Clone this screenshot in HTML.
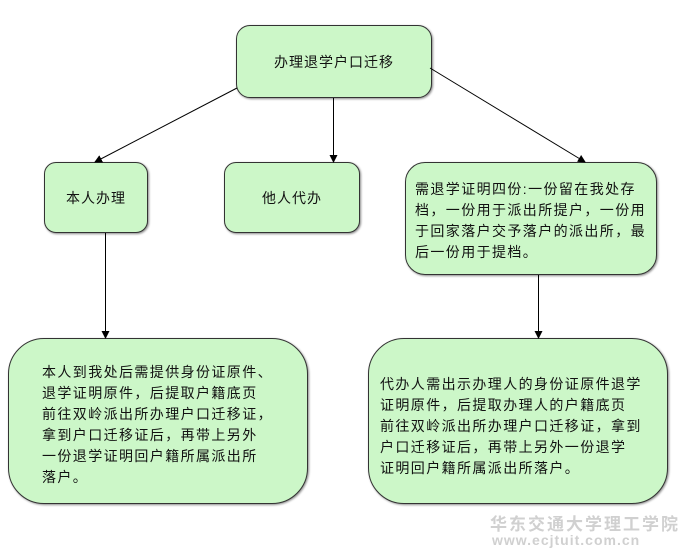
<!DOCTYPE html>
<html><head><meta charset="utf-8"><style>
body{margin:0;width:681px;height:555px;background:#fff;position:relative;overflow:hidden;font-family:"Liberation Sans","WenQuanYi Zen Hei","Noto Sans CJK SC",sans-serif;color:#111}
.b{position:absolute;background:#ccf7c8;border:1px solid #333;box-sizing:border-box;box-shadow:1px 1px 2px #888}
.c{display:flex;align-items:center;justify-content:center;font-size:14px;letter-spacing:1px}
.t{position:absolute;font-size:14px;letter-spacing:1.4px;line-height:21px;white-space:nowrap}
svg{position:absolute;left:0;top:0}
</style></head><body>
<div class="b c" style="left:236px;top:25px;width:196px;height:73px;border-radius:14px">办理退学户口迁移</div>
<div class="b c" style="left:44px;top:162px;width:104px;height:71px;border-radius:12px">本人办理</div>
<div class="b c" style="left:224px;top:162px;width:136px;height:71px;border-radius:12px">他人代办</div>
<div class="b" style="left:405px;top:162px;width:252px;height:113px;border-radius:20px"></div>
<div class="t" style="left:415px;top:179px">需退学证明四份:一份留在我处存<br>档，一份用于派出所提户，一份用<br>于回家落户交予落户的派出所，最<br>后一份用于提档。</div>
<div class="b" style="left:8px;top:338px;width:300px;height:166px;border-radius:36px"></div>
<div class="t" style="left:42px;top:362px">本人到我处后需提供身份证原件、<br>退学证明原件，后提取户籍底页<br>前往双岭派出所办理户口迁移证，<br>拿到户口迁移证后，再带上另外<br>一份退学证明回户籍所属派出所<br>落户。</div>
<div class="b" style="left:368px;top:338px;width:300px;height:166px;border-radius:36px"></div>
<div class="t" style="left:380px;top:374px">代办人需出示办理人的身份证原件退学<br>证明原件，后提取办理人的户籍底页<br>前往双岭派出所办理户口迁移证，拿到<br>户口迁移证后，再带上另外一份退学<br>证明回户籍所属派出所落户。</div>
<div style="position:absolute;left:490px;top:510px;color:#d0d0d0;font-size:17px;font-weight:bold;letter-spacing:2px">华东交通大学理工学院</div>
<div style="position:absolute;left:492px;top:532px;color:#d0d0d0;font-size:14px;font-weight:bold;letter-spacing:1px">www.ecjtuit.com.cn</div>
<svg width="681" height="555">
<defs><marker id="a" markerWidth="8" markerHeight="8" refX="7" refY="4" orient="auto" markerUnits="userSpaceOnUse"><path d="M0,0L8,4L0,8z" fill="#000"/></marker></defs>
<g stroke="#000" stroke-width="1" fill="none" marker-end="url(#a)">
<line x1="237" y1="88" x2="95" y2="162"/>
<line x1="333.5" y1="98" x2="333.5" y2="162"/>
<line x1="430" y1="68" x2="585" y2="162"/>
<line x1="105.5" y1="233" x2="105.5" y2="338"/>
<line x1="538.5" y1="275" x2="538.5" y2="338"/>
</g></svg>
</body></html>
